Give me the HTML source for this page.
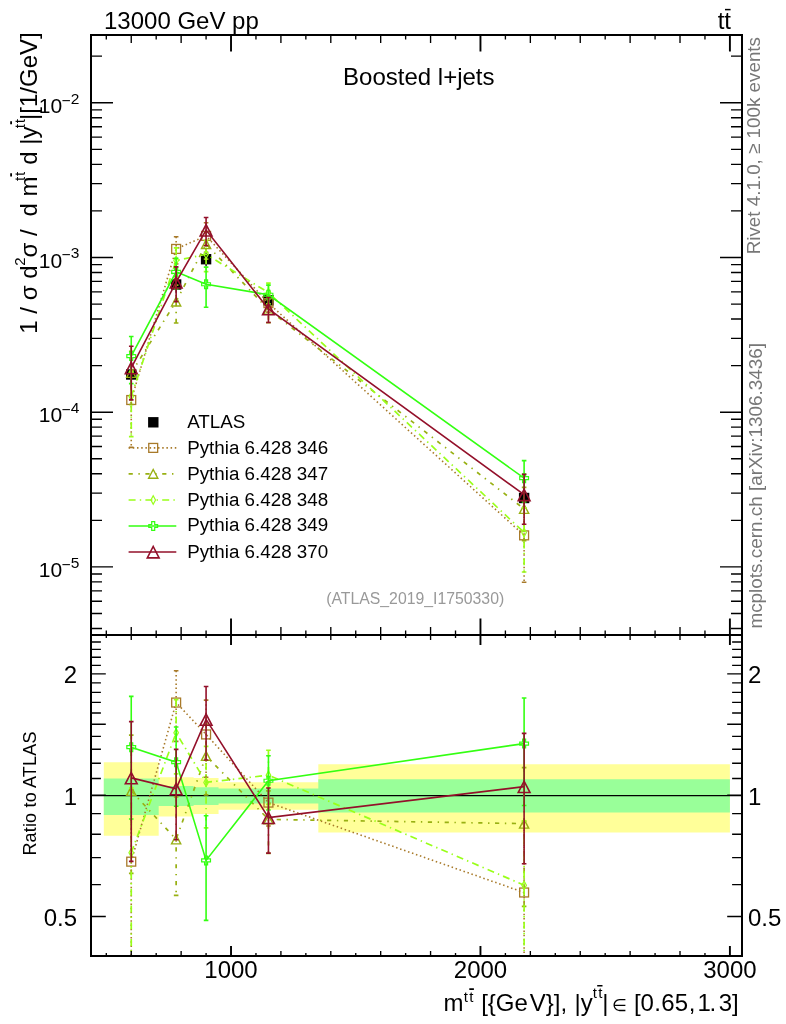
<!DOCTYPE html>
<html><head><meta charset="utf-8"><title>plot</title><style>html,body{margin:0;padding:0;background:#fff}svg{display:block}</style></head><body>
<svg width="786" height="1024" viewBox="0 0 786 1024" font-family="&quot;Liberation Sans&quot;, &quot;DejaVu Sans&quot;, sans-serif">
<rect width="786" height="1024" fill="#fff"/>
<clipPath id="cr"><rect x="91.0" y="635.0" width="651.0" height="321.0"/></clipPath>
<clipPath id="cm"><rect x="91.0" y="35.0" width="651.0" height="600.0"/></clipPath>
<path d="M103.81,762.20 L158.68,762.20 L158.68,777.30 L193.60,777.30 L193.60,778.10 L218.55,778.10 L218.55,782.30 L318.32,782.30 L318.32,764.30 L729.90,764.30 L729.90,832.60 L318.32,832.60 L318.32,809.70 L218.55,809.70 L218.55,813.90 L193.60,813.90 L193.60,816.60 L158.68,816.60 L158.68,835.70 L103.81,835.70 Z" fill="#ffff99"/>
<path d="M103.81,778.40 L158.68,778.40 L158.68,785.90 L193.60,785.90 L193.60,787.20 L218.55,787.20 L218.55,788.60 L318.32,788.60 L318.32,779.20 L729.90,779.20 L729.90,812.60 L318.32,812.60 L318.32,803.40 L218.55,803.40 L218.55,805.00 L193.60,805.00 L193.60,806.10 L158.68,806.10 L158.68,814.90 L103.81,814.90 Z" fill="#99ff99"/>
<line x1="91.0" x2="742.0" y1="795.6" y2="795.6" stroke="#000" stroke-width="1.15"/>
<g clip-path="url(#cr)">
<polyline points="131.24,861.66 176.14,702.55 206.08,734.45 268.44,802.60 524.11,892.50" fill="none" stroke="#a87a2a" stroke-width="1.6" stroke-dasharray="1.5,2.7"/>
<line x1="131.24" x2="131.24" y1="790.03" y2="985.02" stroke="#a87a2a" stroke-width="1.6" stroke-dasharray="1.5,2.7"/>
<path d="M128.94,790.03 h4.6 M128.94,985.02 h4.6" stroke="#a87a2a" stroke-width="1.6" fill="none"/>
<rect x="126.79" y="857.21" width="8.9" height="8.9" fill="none" stroke="#a87a2a" stroke-width="1.3"/>
<line x1="176.14" x2="176.14" y1="670.78" y2="741.39" stroke="#a87a2a" stroke-width="1.6" stroke-dasharray="1.5,2.7"/>
<path d="M173.84,670.78 h4.6 M173.84,741.39 h4.6" stroke="#a87a2a" stroke-width="1.6" fill="none"/>
<rect x="171.69" y="698.10" width="8.9" height="8.9" fill="none" stroke="#a87a2a" stroke-width="1.3"/>
<line x1="206.08" x2="206.08" y1="700.09" y2="777.25" stroke="#a87a2a" stroke-width="1.6" stroke-dasharray="1.5,2.7"/>
<path d="M203.78,700.09 h4.6 M203.78,777.25 h4.6" stroke="#a87a2a" stroke-width="1.6" fill="none"/>
<rect x="201.63" y="730.00" width="8.9" height="8.9" fill="none" stroke="#a87a2a" stroke-width="1.3"/>
<line x1="268.44" x2="268.44" y1="781.96" y2="826.00" stroke="#a87a2a" stroke-width="1.6" stroke-dasharray="1.5,2.7"/>
<path d="M266.14,781.96 h4.6 M266.14,826.00 h4.6" stroke="#a87a2a" stroke-width="1.6" fill="none"/>
<rect x="263.99" y="798.15" width="8.9" height="8.9" fill="none" stroke="#a87a2a" stroke-width="1.3"/>
<line x1="524.11" x2="524.11" y1="821.29" y2="1014.56" stroke="#a87a2a" stroke-width="1.6" stroke-dasharray="1.5,2.7"/>
<path d="M521.81,821.29 h4.6 M521.81,1014.56 h4.6" stroke="#a87a2a" stroke-width="1.6" fill="none"/>
<rect x="519.66" y="888.05" width="8.9" height="8.9" fill="none" stroke="#a87a2a" stroke-width="1.3"/>
</g>
<g clip-path="url(#cr)">
<polyline points="131.24,790.88 176.14,839.35 206.08,755.87 268.44,819.37 524.11,823.64" fill="none" stroke="#98b013" stroke-width="1.7" stroke-dasharray="4.2,5.6,1.4,5.6"/>
<line x1="131.24" x2="131.24" y1="735.07" y2="873.30" stroke="#98b013" stroke-width="1.7" stroke-dasharray="4.2,5.6,1.4,5.6"/>
<path d="M128.94,735.07 h4.6 M128.94,873.30 h4.6" stroke="#98b013" stroke-width="1.7" fill="none"/>
<path d="M126.64,795.38 L135.84,795.38 L131.24,786.58 Z" fill="none" stroke="#98b013" stroke-width="1.4"/>
<line x1="176.14" x2="176.14" y1="796.96" y2="895.42" stroke="#98b013" stroke-width="1.7" stroke-dasharray="4.2,5.6,1.4,5.6"/>
<path d="M173.84,796.96 h4.6 M173.84,895.42 h4.6" stroke="#98b013" stroke-width="1.7" fill="none"/>
<path d="M171.54,843.85 L180.74,843.85 L176.14,835.05 Z" fill="none" stroke="#98b013" stroke-width="1.4"/>
<line x1="206.08" x2="206.08" y1="724.01" y2="794.85" stroke="#98b013" stroke-width="1.7" stroke-dasharray="4.2,5.6,1.4,5.6"/>
<path d="M203.78,724.01 h4.6 M203.78,794.85 h4.6" stroke="#98b013" stroke-width="1.7" fill="none"/>
<path d="M201.48,760.37 L210.68,760.37 L206.08,751.57 Z" fill="none" stroke="#98b013" stroke-width="1.4"/>
<line x1="268.44" x2="268.44" y1="790.88" y2="853.42" stroke="#98b013" stroke-width="1.7" stroke-dasharray="4.2,5.6,1.4,5.6"/>
<path d="M266.14,790.88 h4.6 M266.14,853.42 h4.6" stroke="#98b013" stroke-width="1.7" fill="none"/>
<path d="M263.84,823.87 L273.04,823.87 L268.44,815.07 Z" fill="none" stroke="#98b013" stroke-width="1.4"/>
<line x1="524.11" x2="524.11" y1="767.72" y2="906.30" stroke="#98b013" stroke-width="1.7" stroke-dasharray="4.2,5.6,1.4,5.6"/>
<path d="M521.81,767.72 h4.6 M521.81,906.30 h4.6" stroke="#98b013" stroke-width="1.7" fill="none"/>
<path d="M519.51,828.14 L528.71,828.14 L524.11,819.34 Z" fill="none" stroke="#98b013" stroke-width="1.4"/>
</g>
<g clip-path="url(#cr)">
<polyline points="131.24,852.69 176.14,732.85 206.08,782.38 268.44,775.21 524.11,885.18" fill="none" stroke="#99ff19" stroke-width="1.7" stroke-dasharray="7,4.2,1.4,4.2"/>
<line x1="131.24" x2="131.24" y1="787.83" y2="956.87" stroke="#99ff19" stroke-width="1.7" stroke-dasharray="7,4.2,1.4,4.2"/>
<path d="M128.94,787.83 h4.6 M128.94,956.87 h4.6" stroke="#99ff19" stroke-width="1.7" fill="none"/>
<path d="M131.24,848.49 L133.54,852.69 L131.24,856.89 L128.94,852.69 Z" fill="none" stroke="#99ff19" stroke-width="1.2"/>
<line x1="176.14" x2="176.14" y1="699.68" y2="773.81" stroke="#99ff19" stroke-width="1.7" stroke-dasharray="7,4.2,1.4,4.2"/>
<path d="M173.84,699.68 h4.6 M173.84,773.81 h4.6" stroke="#99ff19" stroke-width="1.7" fill="none"/>
<path d="M176.14,728.65 L178.44,732.85 L176.14,737.05 L173.84,732.85 Z" fill="none" stroke="#99ff19" stroke-width="1.2"/>
<line x1="206.08" x2="206.08" y1="746.35" y2="827.81" stroke="#99ff19" stroke-width="1.7" stroke-dasharray="7,4.2,1.4,4.2"/>
<path d="M203.78,746.35 h4.6 M203.78,827.81 h4.6" stroke="#99ff19" stroke-width="1.7" fill="none"/>
<path d="M206.08,778.18 L208.38,782.38 L206.08,786.58 L203.78,782.38 Z" fill="none" stroke="#99ff19" stroke-width="1.2"/>
<line x1="268.44" x2="268.44" y1="750.23" y2="804.36" stroke="#99ff19" stroke-width="1.7" stroke-dasharray="7,4.2,1.4,4.2"/>
<path d="M266.14,750.23 h4.6 M266.14,804.36 h4.6" stroke="#99ff19" stroke-width="1.7" fill="none"/>
<path d="M268.44,771.01 L270.74,775.21 L268.44,779.41 L266.14,775.21 Z" fill="none" stroke="#99ff19" stroke-width="1.2"/>
<line x1="524.11" x2="524.11" y1="820.86" y2="987.95" stroke="#99ff19" stroke-width="1.7" stroke-dasharray="7,4.2,1.4,4.2"/>
<path d="M521.81,820.86 h4.6 M521.81,987.95 h4.6" stroke="#99ff19" stroke-width="1.7" fill="none"/>
<path d="M524.11,880.98 L526.41,885.18 L524.11,889.38 L521.81,885.18 Z" fill="none" stroke="#99ff19" stroke-width="1.2"/>
</g>
<g clip-path="url(#cr)">
<polyline points="131.24,747.15 176.14,762.13 206.08,860.39 268.44,780.76 524.11,743.59" fill="none" stroke="#33ff11" stroke-width="1.6"/>
<line x1="131.24" x2="131.24" y1="696.37" y2="818.97" stroke="#33ff11" stroke-width="1.6"/>
<path d="M128.94,696.37 h4.6 M128.94,818.97 h4.6" stroke="#33ff11" stroke-width="1.6" fill="none"/>
<path d="M129.74,742.75 L132.74,742.75 L132.74,745.65 L135.64,745.65 L135.64,748.65 L132.74,748.65 L132.74,751.55 L129.74,751.55 L129.74,748.65 L126.84,748.65 L126.84,745.65 L129.74,745.65 Z" fill="none" stroke="#33ff11" stroke-width="1.2"/>
<line x1="176.14" x2="176.14" y1="726.95" y2="806.21" stroke="#33ff11" stroke-width="1.6"/>
<path d="M173.84,726.95 h4.6 M173.84,806.21 h4.6" stroke="#33ff11" stroke-width="1.6" fill="none"/>
<path d="M174.64,757.73 L177.64,757.73 L177.64,760.63 L180.54,760.63 L180.54,763.63 L177.64,763.63 L177.64,766.53 L174.64,766.53 L174.64,763.63 L171.74,763.63 L171.74,760.63 L174.64,760.63 Z" fill="none" stroke="#33ff11" stroke-width="1.2"/>
<line x1="206.08" x2="206.08" y1="815.79" y2="920.39" stroke="#33ff11" stroke-width="1.6"/>
<path d="M203.78,815.79 h4.6 M203.78,920.39 h4.6" stroke="#33ff11" stroke-width="1.6" fill="none"/>
<path d="M204.58,855.99 L207.58,855.99 L207.58,858.89 L210.48,858.89 L210.48,861.89 L207.58,861.89 L207.58,864.79 L204.58,864.79 L204.58,861.89 L201.68,861.89 L201.68,858.89 L204.58,858.89 Z" fill="none" stroke="#33ff11" stroke-width="1.2"/>
<line x1="268.44" x2="268.44" y1="755.73" y2="809.98" stroke="#33ff11" stroke-width="1.6"/>
<path d="M266.14,755.73 h4.6 M266.14,809.98 h4.6" stroke="#33ff11" stroke-width="1.6" fill="none"/>
<path d="M266.94,776.36 L269.94,776.36 L269.94,779.26 L272.84,779.26 L272.84,782.26 L269.94,782.26 L269.94,785.16 L266.94,785.16 L266.94,782.26 L264.04,782.26 L264.04,779.26 L266.94,779.26 Z" fill="none" stroke="#33ff11" stroke-width="1.2"/>
<line x1="524.11" x2="524.11" y1="697.97" y2="805.47" stroke="#33ff11" stroke-width="1.6"/>
<path d="M521.81,697.97 h4.6 M521.81,805.47 h4.6" stroke="#33ff11" stroke-width="1.6" fill="none"/>
<path d="M522.61,739.19 L525.61,739.19 L525.61,742.09 L528.51,742.09 L528.51,745.09 L525.61,745.09 L525.61,747.99 L522.61,747.99 L522.61,745.09 L519.71,745.09 L519.71,742.09 L522.61,742.09 Z" fill="none" stroke="#33ff11" stroke-width="1.2"/>
</g>
<g clip-path="url(#cr)">
<polyline points="131.24,777.89 176.14,788.84 206.08,719.41 268.44,817.57 524.11,786.66" fill="none" stroke="#93102a" stroke-width="1.6"/>
<line x1="131.24" x2="131.24" y1="721.58" y2="861.41" stroke="#93102a" stroke-width="1.6"/>
<path d="M128.94,721.58 h4.6 M128.94,861.41 h4.6" stroke="#93102a" stroke-width="1.6" fill="none"/>
<path d="M125.34,783.79 L137.14,783.79 L131.24,772.39 Z" fill="none" stroke="#93102a" stroke-width="1.6"/>
<line x1="176.14" x2="176.14" y1="749.42" y2="839.81" stroke="#93102a" stroke-width="1.6"/>
<path d="M173.84,749.42 h4.6 M173.84,839.81 h4.6" stroke="#93102a" stroke-width="1.6" fill="none"/>
<path d="M170.24,794.74 L182.04,794.74 L176.14,783.34 Z" fill="none" stroke="#93102a" stroke-width="1.6"/>
<line x1="206.08" x2="206.08" y1="686.51" y2="759.97" stroke="#93102a" stroke-width="1.6"/>
<path d="M203.78,686.51 h4.6 M203.78,759.97 h4.6" stroke="#93102a" stroke-width="1.6" fill="none"/>
<path d="M200.18,725.31 L211.98,725.31 L206.08,713.91 Z" fill="none" stroke="#93102a" stroke-width="1.6"/>
<line x1="268.44" x2="268.44" y1="788.00" y2="853.17" stroke="#93102a" stroke-width="1.6"/>
<path d="M266.14,788.00 h4.6 M266.14,853.17 h4.6" stroke="#93102a" stroke-width="1.6" fill="none"/>
<path d="M262.54,823.47 L274.34,823.47 L268.44,812.07 Z" fill="none" stroke="#93102a" stroke-width="1.6"/>
<line x1="524.11" x2="524.11" y1="733.34" y2="863.72" stroke="#93102a" stroke-width="1.6"/>
<path d="M521.81,733.34 h4.6 M521.81,863.72 h4.6" stroke="#93102a" stroke-width="1.6" fill="none"/>
<path d="M518.21,792.56 L530.01,792.56 L524.11,781.16 Z" fill="none" stroke="#93102a" stroke-width="1.6"/>
</g>
<line x1="131.24" x2="131.24" y1="361.83" y2="390.05" stroke="#000" stroke-width="1.3"/>
<rect x="126.04" y="369.30" width="10.4" height="10.4" fill="#000"/>
<line x1="176.14" x2="176.14" y1="277.63" y2="292.72" stroke="#000" stroke-width="1.3"/>
<rect x="170.94" y="279.30" width="10.4" height="10.4" fill="#000"/>
<line x1="206.08" x2="206.08" y1="252.63" y2="266.38" stroke="#000" stroke-width="1.3"/>
<rect x="200.88" y="254.00" width="10.4" height="10.4" fill="#000"/>
<line x1="268.44" x2="268.44" y1="295.35" y2="305.87" stroke="#000" stroke-width="1.3"/>
<rect x="263.24" y="295.10" width="10.4" height="10.4" fill="#000"/>
<line x1="524.11" x2="524.11" y1="486.13" y2="512.36" stroke="#000" stroke-width="1.3"/>
<rect x="518.91" y="492.80" width="10.4" height="10.4" fill="#000"/>
<g clip-path="url(#cm)">
<polyline points="131.24,400.02 176.14,248.92 206.08,235.87 268.44,303.14 524.11,535.36" fill="none" stroke="#a87a2a" stroke-width="1.6" stroke-dasharray="1.5,2.7"/>
<line x1="131.24" x2="131.24" y1="372.51" y2="447.39" stroke="#a87a2a" stroke-width="1.6" stroke-dasharray="1.5,2.7"/>
<path d="M128.94,372.51 h4.6 M128.94,447.39 h4.6" stroke="#a87a2a" stroke-width="1.6" fill="none"/>
<rect x="126.79" y="395.57" width="8.9" height="8.9" fill="none" stroke="#a87a2a" stroke-width="1.3"/>
<line x1="176.14" x2="176.14" y1="236.72" y2="263.84" stroke="#a87a2a" stroke-width="1.6" stroke-dasharray="1.5,2.7"/>
<path d="M173.84,236.72 h4.6 M173.84,263.84 h4.6" stroke="#a87a2a" stroke-width="1.6" fill="none"/>
<rect x="171.69" y="244.47" width="8.9" height="8.9" fill="none" stroke="#a87a2a" stroke-width="1.3"/>
<line x1="206.08" x2="206.08" y1="222.68" y2="252.31" stroke="#a87a2a" stroke-width="1.6" stroke-dasharray="1.5,2.7"/>
<path d="M203.78,222.68 h4.6 M203.78,252.31 h4.6" stroke="#a87a2a" stroke-width="1.6" fill="none"/>
<rect x="201.63" y="231.42" width="8.9" height="8.9" fill="none" stroke="#a87a2a" stroke-width="1.3"/>
<line x1="268.44" x2="268.44" y1="295.22" y2="312.13" stroke="#a87a2a" stroke-width="1.6" stroke-dasharray="1.5,2.7"/>
<path d="M266.14,295.22 h4.6 M266.14,312.13 h4.6" stroke="#a87a2a" stroke-width="1.6" fill="none"/>
<rect x="263.99" y="298.69" width="8.9" height="8.9" fill="none" stroke="#a87a2a" stroke-width="1.3"/>
<line x1="524.11" x2="524.11" y1="508.02" y2="582.23" stroke="#a87a2a" stroke-width="1.6" stroke-dasharray="1.5,2.7"/>
<path d="M521.81,508.02 h4.6 M521.81,582.23 h4.6" stroke="#a87a2a" stroke-width="1.6" fill="none"/>
<rect x="519.66" y="530.91" width="8.9" height="8.9" fill="none" stroke="#a87a2a" stroke-width="1.3"/>
</g>
<g clip-path="url(#cm)">
<polyline points="131.24,372.84 176.14,301.46 206.08,244.10 268.44,309.58 524.11,508.92" fill="none" stroke="#98b013" stroke-width="1.7" stroke-dasharray="4.2,5.6,1.4,5.6"/>
<line x1="131.24" x2="131.24" y1="351.41" y2="404.49" stroke="#98b013" stroke-width="1.7" stroke-dasharray="4.2,5.6,1.4,5.6"/>
<path d="M128.94,351.41 h4.6 M128.94,404.49 h4.6" stroke="#98b013" stroke-width="1.7" fill="none"/>
<path d="M126.64,377.34 L135.84,377.34 L131.24,368.54 Z" fill="none" stroke="#98b013" stroke-width="1.4"/>
<line x1="176.14" x2="176.14" y1="285.18" y2="322.98" stroke="#98b013" stroke-width="1.7" stroke-dasharray="4.2,5.6,1.4,5.6"/>
<path d="M173.84,285.18 h4.6 M173.84,322.98 h4.6" stroke="#98b013" stroke-width="1.7" fill="none"/>
<path d="M171.54,305.96 L180.74,305.96 L176.14,297.16 Z" fill="none" stroke="#98b013" stroke-width="1.4"/>
<line x1="206.08" x2="206.08" y1="231.86" y2="259.07" stroke="#98b013" stroke-width="1.7" stroke-dasharray="4.2,5.6,1.4,5.6"/>
<path d="M203.78,231.86 h4.6 M203.78,259.07 h4.6" stroke="#98b013" stroke-width="1.7" fill="none"/>
<path d="M201.48,248.60 L210.68,248.60 L206.08,239.80 Z" fill="none" stroke="#98b013" stroke-width="1.4"/>
<line x1="268.44" x2="268.44" y1="298.64" y2="322.66" stroke="#98b013" stroke-width="1.7" stroke-dasharray="4.2,5.6,1.4,5.6"/>
<path d="M266.14,298.64 h4.6 M266.14,322.66 h4.6" stroke="#98b013" stroke-width="1.7" fill="none"/>
<path d="M263.84,314.08 L273.04,314.08 L268.44,305.28 Z" fill="none" stroke="#98b013" stroke-width="1.4"/>
<line x1="524.11" x2="524.11" y1="487.45" y2="540.66" stroke="#98b013" stroke-width="1.7" stroke-dasharray="4.2,5.6,1.4,5.6"/>
<path d="M521.81,487.45 h4.6 M521.81,540.66 h4.6" stroke="#98b013" stroke-width="1.7" fill="none"/>
<path d="M519.51,513.42 L528.71,513.42 L524.11,504.62 Z" fill="none" stroke="#98b013" stroke-width="1.4"/>
</g>
<g clip-path="url(#cm)">
<polyline points="131.24,396.57 176.14,260.56 206.08,254.28 268.44,292.62 524.11,532.55" fill="none" stroke="#99ff19" stroke-width="1.7" stroke-dasharray="7,4.2,1.4,4.2"/>
<line x1="131.24" x2="131.24" y1="371.67" y2="436.58" stroke="#99ff19" stroke-width="1.7" stroke-dasharray="7,4.2,1.4,4.2"/>
<path d="M128.94,371.67 h4.6 M128.94,436.58 h4.6" stroke="#99ff19" stroke-width="1.7" fill="none"/>
<path d="M131.24,392.37 L133.54,396.57 L131.24,400.77 L128.94,396.57 Z" fill="none" stroke="#99ff19" stroke-width="1.2"/>
<line x1="176.14" x2="176.14" y1="247.82" y2="276.29" stroke="#99ff19" stroke-width="1.7" stroke-dasharray="7,4.2,1.4,4.2"/>
<path d="M173.84,247.82 h4.6 M173.84,276.29 h4.6" stroke="#99ff19" stroke-width="1.7" fill="none"/>
<path d="M176.14,256.36 L178.44,260.56 L176.14,264.76 L173.84,260.56 Z" fill="none" stroke="#99ff19" stroke-width="1.2"/>
<line x1="206.08" x2="206.08" y1="240.44" y2="271.72" stroke="#99ff19" stroke-width="1.7" stroke-dasharray="7,4.2,1.4,4.2"/>
<path d="M203.78,240.44 h4.6 M203.78,271.72 h4.6" stroke="#99ff19" stroke-width="1.7" fill="none"/>
<path d="M206.08,250.08 L208.38,254.28 L206.08,258.48 L203.78,254.28 Z" fill="none" stroke="#99ff19" stroke-width="1.2"/>
<line x1="268.44" x2="268.44" y1="283.03" y2="303.82" stroke="#99ff19" stroke-width="1.7" stroke-dasharray="7,4.2,1.4,4.2"/>
<path d="M266.14,283.03 h4.6 M266.14,303.82 h4.6" stroke="#99ff19" stroke-width="1.7" fill="none"/>
<path d="M268.44,288.42 L270.74,292.62 L268.44,296.82 L266.14,292.62 Z" fill="none" stroke="#99ff19" stroke-width="1.2"/>
<line x1="524.11" x2="524.11" y1="507.85" y2="572.01" stroke="#99ff19" stroke-width="1.7" stroke-dasharray="7,4.2,1.4,4.2"/>
<path d="M521.81,507.85 h4.6 M521.81,572.01 h4.6" stroke="#99ff19" stroke-width="1.7" fill="none"/>
<path d="M524.11,528.35 L526.41,532.55 L524.11,536.75 L521.81,532.55 Z" fill="none" stroke="#99ff19" stroke-width="1.2"/>
</g>
<g clip-path="url(#cm)">
<polyline points="131.24,356.05 176.14,271.80 206.08,284.23 268.44,294.76 524.11,478.18" fill="none" stroke="#33ff11" stroke-width="1.6"/>
<line x1="131.24" x2="131.24" y1="336.55" y2="383.63" stroke="#33ff11" stroke-width="1.6"/>
<path d="M128.94,336.55 h4.6 M128.94,383.63 h4.6" stroke="#33ff11" stroke-width="1.6" fill="none"/>
<path d="M129.74,351.65 L132.74,351.65 L132.74,354.55 L135.64,354.55 L135.64,357.55 L132.74,357.55 L132.74,360.45 L129.74,360.45 L129.74,357.55 L126.84,357.55 L126.84,354.55 L129.74,354.55 Z" fill="none" stroke="#33ff11" stroke-width="1.2"/>
<line x1="176.14" x2="176.14" y1="258.29" y2="288.73" stroke="#33ff11" stroke-width="1.6"/>
<path d="M173.84,258.29 h4.6 M173.84,288.73 h4.6" stroke="#33ff11" stroke-width="1.6" fill="none"/>
<path d="M174.64,267.40 L177.64,267.40 L177.64,270.30 L180.54,270.30 L180.54,273.30 L177.64,273.30 L177.64,276.20 L174.64,276.20 L174.64,273.30 L171.74,273.30 L171.74,270.30 L174.64,270.30 Z" fill="none" stroke="#33ff11" stroke-width="1.2"/>
<line x1="206.08" x2="206.08" y1="267.11" y2="307.27" stroke="#33ff11" stroke-width="1.6"/>
<path d="M203.78,267.11 h4.6 M203.78,307.27 h4.6" stroke="#33ff11" stroke-width="1.6" fill="none"/>
<path d="M204.58,279.83 L207.58,279.83 L207.58,282.73 L210.48,282.73 L210.48,285.73 L207.58,285.73 L207.58,288.63 L204.58,288.63 L204.58,285.73 L201.68,285.73 L201.68,282.73 L204.58,282.73 Z" fill="none" stroke="#33ff11" stroke-width="1.2"/>
<line x1="268.44" x2="268.44" y1="285.14" y2="305.98" stroke="#33ff11" stroke-width="1.6"/>
<path d="M266.14,285.14 h4.6 M266.14,305.98 h4.6" stroke="#33ff11" stroke-width="1.6" fill="none"/>
<path d="M266.94,290.36 L269.94,290.36 L269.94,293.26 L272.84,293.26 L272.84,296.26 L269.94,296.26 L269.94,299.16 L266.94,299.16 L266.94,296.26 L264.04,296.26 L264.04,293.26 L266.94,293.26 Z" fill="none" stroke="#33ff11" stroke-width="1.2"/>
<line x1="524.11" x2="524.11" y1="460.66" y2="501.94" stroke="#33ff11" stroke-width="1.6"/>
<path d="M521.81,460.66 h4.6 M521.81,501.94 h4.6" stroke="#33ff11" stroke-width="1.6" fill="none"/>
<path d="M522.61,473.78 L525.61,473.78 L525.61,476.68 L528.51,476.68 L528.51,479.68 L525.61,479.68 L525.61,482.58 L522.61,482.58 L522.61,479.68 L519.71,479.68 L519.71,476.68 L522.61,476.68 Z" fill="none" stroke="#33ff11" stroke-width="1.2"/>
</g>
<g clip-path="url(#cm)">
<polyline points="131.24,367.85 176.14,282.06 206.08,230.10 268.44,308.89 524.11,494.72" fill="none" stroke="#93102a" stroke-width="1.6"/>
<line x1="131.24" x2="131.24" y1="346.23" y2="399.92" stroke="#93102a" stroke-width="1.6"/>
<path d="M128.94,346.23 h4.6 M128.94,399.92 h4.6" stroke="#93102a" stroke-width="1.6" fill="none"/>
<path d="M125.34,373.75 L137.14,373.75 L131.24,362.35 Z" fill="none" stroke="#93102a" stroke-width="1.6"/>
<line x1="176.14" x2="176.14" y1="266.92" y2="301.63" stroke="#93102a" stroke-width="1.6"/>
<path d="M173.84,266.92 h4.6 M173.84,301.63 h4.6" stroke="#93102a" stroke-width="1.6" fill="none"/>
<path d="M170.24,287.96 L182.04,287.96 L176.14,276.56 Z" fill="none" stroke="#93102a" stroke-width="1.6"/>
<line x1="206.08" x2="206.08" y1="217.46" y2="245.67" stroke="#93102a" stroke-width="1.6"/>
<path d="M203.78,217.46 h4.6 M203.78,245.67 h4.6" stroke="#93102a" stroke-width="1.6" fill="none"/>
<path d="M200.18,236.00 L211.98,236.00 L206.08,224.60 Z" fill="none" stroke="#93102a" stroke-width="1.6"/>
<line x1="268.44" x2="268.44" y1="297.54" y2="322.56" stroke="#93102a" stroke-width="1.6"/>
<path d="M266.14,297.54 h4.6 M266.14,322.56 h4.6" stroke="#93102a" stroke-width="1.6" fill="none"/>
<path d="M262.54,314.79 L274.34,314.79 L268.44,303.39 Z" fill="none" stroke="#93102a" stroke-width="1.6"/>
<line x1="524.11" x2="524.11" y1="474.25" y2="524.31" stroke="#93102a" stroke-width="1.6"/>
<path d="M521.81,474.25 h4.6 M521.81,524.31 h4.6" stroke="#93102a" stroke-width="1.6" fill="none"/>
<path d="M518.21,500.62 L530.01,500.62 L524.11,489.22 Z" fill="none" stroke="#93102a" stroke-width="1.6"/>
</g>
<rect x="91.0" y="35.0" width="651.0" height="921.0" fill="none" stroke="#000" stroke-width="2"/>
<line x1="91.0" x2="742.0" y1="635.0" y2="635.0" stroke="#000" stroke-width="2"/>
<path d="M106.30,35.0 v4.5 M106.30,635.0 v-4.5 M106.30,635.0 v3 M106.30,956.0 v-3 M131.24,35.0 v8 M131.24,635.0 v-8 M131.24,635.0 v5 M131.24,956.0 v-5 M156.19,35.0 v4.5 M156.19,635.0 v-4.5 M156.19,635.0 v3 M156.19,956.0 v-3 M181.13,35.0 v8 M181.13,635.0 v-8 M181.13,635.0 v5 M181.13,956.0 v-5 M206.08,35.0 v4.5 M206.08,635.0 v-4.5 M206.08,635.0 v3 M206.08,956.0 v-3 M255.96,35.0 v4.5 M255.96,635.0 v-4.5 M255.96,635.0 v3 M255.96,956.0 v-3 M280.91,35.0 v8 M280.91,635.0 v-8 M280.91,635.0 v5 M280.91,956.0 v-5 M305.85,35.0 v4.5 M305.85,635.0 v-4.5 M305.85,635.0 v3 M305.85,956.0 v-3 M330.80,35.0 v8 M330.80,635.0 v-8 M330.80,635.0 v5 M330.80,956.0 v-5 M355.74,35.0 v4.5 M355.74,635.0 v-4.5 M355.74,635.0 v3 M355.74,956.0 v-3 M380.68,35.0 v8 M380.68,635.0 v-8 M380.68,635.0 v5 M380.68,956.0 v-5 M405.63,35.0 v4.5 M405.63,635.0 v-4.5 M405.63,635.0 v3 M405.63,956.0 v-3 M430.57,35.0 v8 M430.57,635.0 v-8 M430.57,635.0 v5 M430.57,956.0 v-5 M455.52,35.0 v4.5 M455.52,635.0 v-4.5 M455.52,635.0 v3 M455.52,956.0 v-3 M505.40,35.0 v4.5 M505.40,635.0 v-4.5 M505.40,635.0 v3 M505.40,956.0 v-3 M530.35,35.0 v8 M530.35,635.0 v-8 M530.35,635.0 v5 M530.35,956.0 v-5 M555.29,35.0 v4.5 M555.29,635.0 v-4.5 M555.29,635.0 v3 M555.29,956.0 v-3 M580.24,35.0 v8 M580.24,635.0 v-8 M580.24,635.0 v5 M580.24,956.0 v-5 M605.18,35.0 v4.5 M605.18,635.0 v-4.5 M605.18,635.0 v3 M605.18,956.0 v-3 M630.12,35.0 v8 M630.12,635.0 v-8 M630.12,635.0 v5 M630.12,956.0 v-5 M655.07,35.0 v4.5 M655.07,635.0 v-4.5 M655.07,635.0 v3 M655.07,956.0 v-3 M680.01,35.0 v8 M680.01,635.0 v-8 M680.01,635.0 v5 M680.01,956.0 v-5 M704.96,35.0 v4.5 M704.96,635.0 v-4.5 M704.96,635.0 v3 M704.96,956.0 v-3 M91.0,628.50 h11 M742.0,628.50 h-11 M91.0,613.51 h11 M742.0,613.51 h-11 M91.0,601.26 h11 M742.0,601.26 h-11 M91.0,590.90 h11 M742.0,590.90 h-11 M91.0,581.92 h11 M742.0,581.92 h-11 M91.0,574.01 h11 M742.0,574.01 h-11 M91.0,566.93 h22 M742.0,566.93 h-22 M91.0,520.35 h11 M742.0,520.35 h-11 M91.0,493.11 h11 M742.0,493.11 h-11 M91.0,473.77 h11 M742.0,473.77 h-11 M91.0,458.78 h11 M742.0,458.78 h-11 M91.0,446.53 h11 M742.0,446.53 h-11 M91.0,436.17 h11 M742.0,436.17 h-11 M91.0,427.19 h11 M742.0,427.19 h-11 M91.0,419.28 h11 M742.0,419.28 h-11 M91.0,412.20 h22 M742.0,412.20 h-22 M91.0,365.62 h11 M742.0,365.62 h-11 M91.0,338.38 h11 M742.0,338.38 h-11 M91.0,319.04 h11 M742.0,319.04 h-11 M91.0,304.05 h11 M742.0,304.05 h-11 M91.0,291.80 h11 M742.0,291.80 h-11 M91.0,281.44 h11 M742.0,281.44 h-11 M91.0,272.46 h11 M742.0,272.46 h-11 M91.0,264.55 h11 M742.0,264.55 h-11 M91.0,257.47 h22 M742.0,257.47 h-22 M91.0,210.89 h11 M742.0,210.89 h-11 M91.0,183.65 h11 M742.0,183.65 h-11 M91.0,164.31 h11 M742.0,164.31 h-11 M91.0,149.32 h11 M742.0,149.32 h-11 M91.0,137.07 h11 M742.0,137.07 h-11 M91.0,126.71 h11 M742.0,126.71 h-11 M91.0,117.73 h11 M742.0,117.73 h-11 M91.0,109.82 h11 M742.0,109.82 h-11 M91.0,102.74 h22 M742.0,102.74 h-22 M91.0,56.16 h11 M742.0,56.16 h-11 M91.0,916.50 h14.8 M742.0,916.50 h-14.8 M91.0,884.59 h9.9 M742.0,884.59 h-9.9 M91.0,857.62 h9.9 M742.0,857.62 h-9.9 M91.0,834.25 h9.9 M742.0,834.25 h-9.9 M91.0,813.64 h9.9 M742.0,813.64 h-9.9 M91.0,795.20 h14.8 M742.0,795.20 h-14.8 M91.0,778.52 h9.9 M742.0,778.52 h-9.9 M91.0,763.29 h9.9 M742.0,763.29 h-9.9 M91.0,749.29 h9.9 M742.0,749.29 h-9.9 M91.0,736.32 h9.9 M742.0,736.32 h-9.9 M91.0,724.24 h14.8 M742.0,724.24 h-14.8 M91.0,712.95 h9.9 M742.0,712.95 h-9.9 M91.0,702.34 h9.9 M742.0,702.34 h-9.9 M91.0,692.34 h9.9 M742.0,692.34 h-9.9 M91.0,682.88 h9.9 M742.0,682.88 h-9.9 M91.0,673.90 h14.8 M742.0,673.90 h-14.8 M91.0,665.36 h9.9 M742.0,665.36 h-9.9 M91.0,657.22 h9.9 M742.0,657.22 h-9.9 M91.0,649.44 h9.9 M742.0,649.44 h-9.9 M91.0,641.99 h9.9 M742.0,641.99 h-9.9" stroke="#000" stroke-width="1.35" fill="none"/>
<path d="M231.02,35.0 v16.5 M231.02,635.0 v-16.5 M231.02,635.0 v10 M231.02,956.0 v-10 M480.46,35.0 v16.5 M480.46,635.0 v-16.5 M480.46,635.0 v10 M480.46,956.0 v-10 M729.90,35.0 v16.5 M729.90,635.0 v-16.5 M729.90,635.0 v10 M729.90,956.0 v-10" stroke="#000" stroke-width="1.9" fill="none"/>
<text x="104" y="28.8" font-size="24">13000 GeV pp</text>
<text x="731" y="28.8" font-size="24" text-anchor="end">tt</text>
<line x1="725" x2="730.6" y1="9.6" y2="9.6" stroke="#000" stroke-width="1.5"/>
<text x="418.8" y="85.4" font-size="24" text-anchor="middle">Boosted l+jets</text>
<text x="62.2" y="112.9" font-size="21" text-anchor="end">10</text><text x="61.6" y="103.5" font-size="15.5"><tspan dy="2">&#8722;</tspan><tspan dy="-2">2</tspan></text>
<text x="62.2" y="267.7" font-size="21" text-anchor="end">10</text><text x="61.6" y="258.3" font-size="15.5"><tspan dy="2">&#8722;</tspan><tspan dy="-2">3</tspan></text>
<text x="62.2" y="422.4" font-size="21" text-anchor="end">10</text><text x="61.6" y="413.0" font-size="15.5"><tspan dy="2">&#8722;</tspan><tspan dy="-2">4</tspan></text>
<text x="62.2" y="577.1" font-size="21" text-anchor="end">10</text><text x="61.6" y="567.7" font-size="15.5"><tspan dy="2">&#8722;</tspan><tspan dy="-2">5</tspan></text>
<text x="77" y="683.2" font-size="24" text-anchor="end">2</text>
<text x="748" y="683.4" font-size="24">2</text>
<text x="77" y="804.5" font-size="24" text-anchor="end">1</text>
<text x="748" y="804.7" font-size="24">1</text>
<text x="77" y="925.8" font-size="24" text-anchor="end">0.5</text>
<text x="748" y="926.0" font-size="24">0.5</text>
<text x="231.0" y="978.2" font-size="24" text-anchor="middle">1000</text>
<text x="480.5" y="978.2" font-size="24" text-anchor="middle">2000</text>
<text x="729.9" y="978.2" font-size="24" text-anchor="middle">3000</text>
<rect x="148.1" y="417.1" width="10.4" height="10.4" fill="#000"/>
<text x="187.2" y="428" font-size="18.8">ATLAS</text>
<line x1="128.6" x2="176.3" y1="447.9" y2="447.9" stroke="#a87a2a" stroke-width="1.6" stroke-dasharray="1.5,2.7"/>
<rect x="148.75" y="443.45" width="8.9" height="8.9" fill="none" stroke="#a87a2a" stroke-width="1.3"/>
<text x="187.2" y="454.1" font-size="18.8">Pythia 6.428 346</text>
<line x1="128.6" x2="176.3" y1="473.8" y2="473.8" stroke="#98b013" stroke-width="1.7" stroke-dasharray="4.2,5.6,1.4,5.6"/>
<path d="M148.60,478.30 L157.80,478.30 L153.20,469.50 Z" fill="none" stroke="#98b013" stroke-width="1.4"/>
<text x="187.2" y="479.5" font-size="18.8">Pythia 6.428 347</text>
<line x1="128.6" x2="176.3" y1="500.0" y2="500.0" stroke="#99ff19" stroke-width="1.7" stroke-dasharray="7,4.2,1.4,4.2"/>
<path d="M153.20,495.80 L155.50,500.00 L153.20,504.20 L150.90,500.00 Z" fill="none" stroke="#99ff19" stroke-width="1.2"/>
<text x="187.2" y="505.6" font-size="18.8">Pythia 6.428 348</text>
<line x1="128.6" x2="176.3" y1="526.0" y2="526.0" stroke="#33ff11" stroke-width="1.6"/>
<path d="M151.70,521.60 L154.70,521.60 L154.70,524.50 L157.60,524.50 L157.60,527.50 L154.70,527.50 L154.70,530.40 L151.70,530.40 L151.70,527.50 L148.80,527.50 L148.80,524.50 L151.70,524.50 Z" fill="none" stroke="#33ff11" stroke-width="1.2"/>
<text x="187.2" y="531.4" font-size="18.8">Pythia 6.428 349</text>
<line x1="128.6" x2="176.3" y1="552.0" y2="552.0" stroke="#93102a" stroke-width="1.6"/>
<path d="M147.30,557.90 L159.10,557.90 L153.20,546.50 Z" fill="none" stroke="#93102a" stroke-width="1.6"/>
<text x="187.2" y="558" font-size="18.8">Pythia 6.428 370</text>
<text x="415.2" y="604" font-size="15.8" fill="#999" text-anchor="middle">(ATLAS_2019_I1750330)</text>
<text transform="translate(760.2,254.3) rotate(-90)" font-size="18.8" fill="#777" textLength="217.3">Rivet 4.1.0, &#8805; 100k events</text>
<text transform="translate(762.2,628.6) rotate(-90)" font-size="18.9" fill="#777" textLength="285.6">mcplots.cern.ch [arXiv:1306.3436]</text>
<text transform="translate(36.4,855.6) rotate(-90)" font-size="18" textLength="124">Ratio to ATLAS</text>
<text id="ytitle" transform="translate(37.2,0) rotate(-90)" font-size="24"><tspan x="-333.7" y="0" font-size="24">1 / &#963; d</tspan><tspan x="-265.8" y="-11.8" font-size="15">2</tspan><tspan x="-257.6" y="0" font-size="24">&#963; / </tspan><tspan x="-216.6" y="0" font-size="24">d m</tspan><tspan x="-181.1" y="-11.8" font-size="15">t</tspan><tspan x="-176.0" y="-11.8" font-size="15">t</tspan><tspan x="-164.7" y="0" font-size="24">d |y</tspan><tspan x="-128.3" y="-11.8" font-size="15">t</tspan><tspan x="-123.2" y="-11.8" font-size="15">t</tspan><tspan x="-119.9" y="0" font-size="24">|[1/GeV]</tspan></text>
<path d="M11.1,176.4 V173.2 M11.1,124.2 V121.2" stroke="#000" stroke-width="1.8" fill="none"/>
<text id="xtitle" font-size="24"><tspan x="443.5" y="1010.7" font-size="24">m</tspan><tspan x="463.7" y="1001.7" font-size="15">t</tspan><tspan x="469.2" y="1001.7" font-size="15">t</tspan><tspan x="481.2" y="1010.7" font-size="24">[{Ge</tspan><tspan x="529.7" y="1010.7" font-size="24">V}],</tspan><tspan x="574.4" y="1010.7" font-size="24">|y</tspan><tspan x="592.7" y="998.1" font-size="15">t</tspan><tspan x="598.2" y="998.1" font-size="15">t</tspan><tspan x="602.3" y="1010.7" font-size="24">|</tspan><tspan x="612.3" y="1010.7" font-size="17">&#8712;</tspan><tspan x="633.9" y="1010.7" font-size="24">[0</tspan><tspan x="654.3" y="1010.7" font-size="24">.</tspan><tspan x="661.3" y="1010.7" font-size="24">65</tspan><tspan x="688.7" y="1010.7" font-size="24">,</tspan><tspan x="697.5" y="1010.7" font-size="24">1</tspan><tspan x="709.4" y="1010.7" font-size="24">.</tspan><tspan x="718.7" y="1010.7" font-size="24">3]</tspan></text>
<path d="M469.3,989.1 H473.9 M597.2,985.7 H602.5" stroke="#000" stroke-width="1.6" fill="none"/>
</svg>
</body></html>
